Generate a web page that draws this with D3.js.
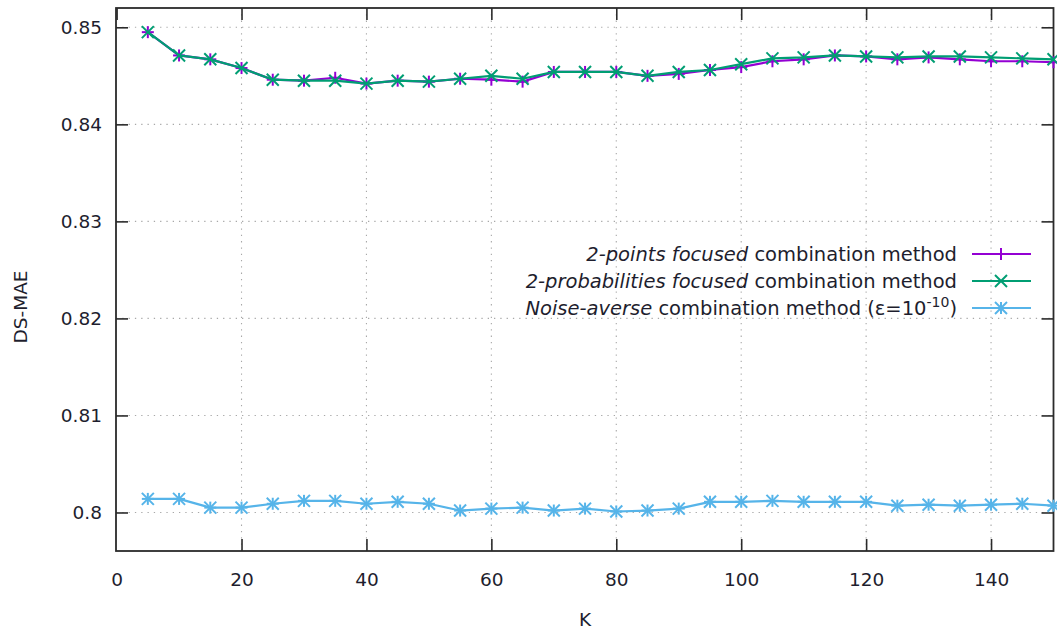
<!DOCTYPE html>
<html>
<head>
<meta charset="utf-8">
<script src="https://cdn.jsdelivr.net/npm/d3@7/dist/d3.min.js"></script>
<style>
  html, body { margin: 0; padding: 0; background: #fff; }
  svg { display: block; font-family: "DejaVu Sans", Verdana, sans-serif; }
</style>
</head>
<body>
<svg id="chart" width="1057" height="635"></svg>
<script>
// Neighbourhood size K
const kValues = [5, 10, 15, 20, 25, 30, 35, 40, 45, 50, 55, 60, 65, 70, 75,
                 80, 85, 90, 95, 100, 105, 110, 115, 120, 125, 130, 135, 140, 145, 150];

// DS-MAE per combination method
const twoPoints = [0.8495, 0.8471, 0.8467, 0.8458, 0.8446, 0.8445, 0.8448, 0.8442, 0.8445, 0.8444,
                   0.8447, 0.8446, 0.8444, 0.8454, 0.8454, 0.8454, 0.8450, 0.8452, 0.8456, 0.8459,
                   0.8465, 0.8467, 0.8471, 0.8470, 0.8467, 0.8469, 0.8467, 0.8465, 0.8465, 0.8464];
const twoProbabilities = [0.8495, 0.8471, 0.8467, 0.8458, 0.8446, 0.8445, 0.8445, 0.8442, 0.8445, 0.8444,
                          0.8447, 0.8450, 0.8447, 0.8454, 0.8454, 0.8454, 0.8450, 0.8454, 0.8456, 0.8462,
                          0.8468, 0.8469, 0.8471, 0.8470, 0.8469, 0.8470, 0.8470, 0.8469, 0.8468, 0.8467];
const noiseAverse = [0.8014, 0.8014, 0.8005, 0.8005, 0.8009, 0.8012, 0.8012, 0.8009, 0.8011, 0.8009,
                     0.8002, 0.8004, 0.8005, 0.8002, 0.8004, 0.8001, 0.8002, 0.8004, 0.8011, 0.8011,
                     0.8012, 0.8011, 0.8011, 0.8011, 0.8007, 0.8008, 0.8007, 0.8008, 0.8009, 0.8007];

const xTicks = [0, 20, 40, 60, 80, 100, 120, 140];
const yTicks = [0.80, 0.81, 0.82, 0.83, 0.84, 0.85];

const series = [
  { values: twoPoints, color: "#9400d3", marker: "plus",
    italic: "2-points focused", rest: " combination method" },
  { values: twoProbabilities, color: "#009e73", marker: "cross",
    italic: "2-probabilities focused", rest: " combination method" },
  { values: noiseAverse, color: "#56b4e9", marker: "star",
    italic: "Noise-averse", rest: " combination method (ε=10", sup: "-10", tail: ")" }
];

const svg = d3.select("#chart");
const plot = { left: 116, right: 1053.5, top: 8, bottom: 551 };

const x = d3.scaleLinear().domain([0, 150]).range([116.6, 1053.5]);
const y = d3.scaleLinear().domain([0.79603, 0.85199]).range([plot.bottom, plot.top]);

// Dotted grid
const grid = svg.append("g").attr("stroke", "#a8a8a8").attr("stroke-width", 1.1)
  .attr("stroke-dasharray", "1.3,5");
grid.selectAll("line.gx").data(xTicks.filter(d => d > 0)).join("line")
  .attr("x1", d => x(d)).attr("x2", d => x(d))
  .attr("y1", plot.top).attr("y2", plot.bottom);
grid.selectAll("line.gy").data(yTicks).join("line")
  .attr("x1", plot.left).attr("x2", plot.right)
  .attr("y1", d => y(d)).attr("y2", d => y(d));

// Axes with inward ticks, mirrored on the opposite sides
const tickLen = 12;
const axisColor = "#2b2b2b";
const fontSize = 18.5;
const legendFont = 19.5;

const bottomAxis = svg.append("g").attr("transform", `translate(0,${plot.bottom})`)
  .call(d3.axisBottom(x).tickValues(xTicks).tickSizeInner(-tickLen).tickSizeOuter(0).tickPadding(22));
const topAxis = svg.append("g").attr("transform", `translate(0,${plot.top})`)
  .call(d3.axisTop(x).tickValues(xTicks).tickSizeInner(-tickLen).tickSizeOuter(0).tickFormat(""));
const leftAxis = svg.append("g").attr("transform", `translate(${plot.left},0)`)
  .call(d3.axisLeft(y).tickValues(yTicks).tickSizeInner(-tickLen).tickSizeOuter(0)
    .tickPadding(14).tickFormat(d => d3.format("")(+d.toFixed(2))));
const rightAxis = svg.append("g").attr("transform", `translate(${plot.right},0)`)
  .call(d3.axisRight(y).tickValues(yTicks).tickSizeInner(-tickLen).tickSizeOuter(0).tickFormat(""));

[bottomAxis, topAxis, leftAxis, rightAxis].forEach(g => {
  g.select(".domain").remove();
  g.selectAll(".tick line").attr("stroke", axisColor).attr("stroke-width", 1.6);
  g.selectAll(".tick text").attr("fill", "#1e1e2e").style("font-size", fontSize + "px")
    .style("font-family", "'DejaVu Sans', Verdana, sans-serif");
});
bottomAxis.selectAll(".tick").filter(d => d === 0).select("line").remove();

// Plot border
svg.append("rect")
  .attr("x", plot.left).attr("y", plot.top)
  .attr("width", plot.right - plot.left).attr("height", plot.bottom - plot.top)
  .attr("fill", "none").attr("stroke", axisColor).attr("stroke-width", 1.8);

// Axis titles
svg.append("text").attr("x", 585).attr("y", 626).attr("text-anchor", "middle")
  .attr("fill", "#1e1e2e").style("font-size", fontSize + "px").text("K");
svg.append("text").attr("transform", "translate(27,307) rotate(-90)").attr("text-anchor", "middle")
  .attr("fill", "#1e1e2e").style("font-size", fontSize + "px").text("DS-MAE");

// Point markers
function drawMarker(g, type, cx, cy, color, r) {
  const segs = [];
  if (type === "plus" || type === "star") {
    segs.push([cx - r, cy, cx + r, cy], [cx, cy - r, cx, cy + r]);
  }
  if (type === "cross" || type === "star") {
    segs.push([cx - r, cy - r, cx + r, cy + r], [cx - r, cy + r, cx + r, cy - r]);
  }
  segs.forEach(s => g.append("line")
    .attr("x1", s[0]).attr("y1", s[1]).attr("x2", s[2]).attr("y2", s[3])
    .attr("stroke", color).attr("stroke-width", 2));
}

const line = d3.line().x((d, i) => x(kValues[i])).y(d => y(d));

series.forEach(s => {
  const g = svg.append("g");
  g.append("path").datum(s.values).attr("d", line)
    .attr("fill", "none").attr("stroke", s.color).attr("stroke-width", 2.2)
    .attr("stroke-linejoin", "round");
  s.values.forEach((v, i) => drawMarker(g, s.marker, x(kValues[i]), y(v), s.color, 6));
});

// Legend
const legendRows = [254, 281, 308];
series.forEach((s, i) => {
  const ly = legendRows[i];
  const t = svg.append("text").attr("x", 957).attr("y", ly + 7).attr("text-anchor", "end")
    .attr("fill", "#1e1e2e").style("font-size", legendFont + "px");
  t.append("tspan").attr("font-style", "italic").text(s.italic);
  t.append("tspan").text(s.rest);
  if (s.sup) {
    t.append("tspan").attr("dy", -8).style("font-size", "14px").text(s.sup);
    t.append("tspan").attr("dy", 8).text(s.tail);
  }
  svg.append("line").attr("x1", 972).attr("x2", 1031).attr("y1", ly).attr("y2", ly)
    .attr("stroke", s.color).attr("stroke-width", 2.2);
  drawMarker(svg, s.marker, 1001, ly, s.color, 6);
});
</script>
</body>
</html>
